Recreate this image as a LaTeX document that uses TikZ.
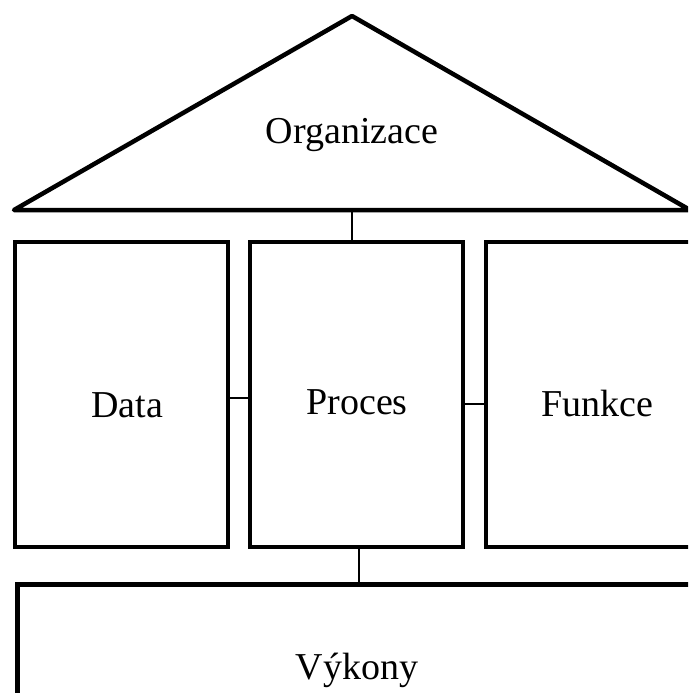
\documentclass[tikz,border=0pt]{standalone}
\usepackage{fontspec}
\setmainfont{Liberation Serif}
\begin{document}
\begin{tikzpicture}[x=1pt,y=-1pt,
  block/.style={draw, line width=4.5pt, inner sep=0pt, minimum width=213pt,
    minimum height=305pt, font=\fontsize{38}{40}\selectfont},
  link/.style={line width=1.6pt},
  lbl/.style={font=\fontsize{38}{40}\selectfont, inner sep=0pt}]
  \useasboundingbox (0,0) rectangle (688,693);
  \clip (0,0) rectangle (688,693);

  % roof
  \coordinate (roofL) at (14,210);
  \coordinate (roofT) at (352,16);
  \coordinate (roofR) at (690,210);
  \draw[line width=4.5pt, line join=round] (roofL) -- (roofT) -- (roofR) -- cycle;
  \node[lbl] (org) at (352,135) {Organizace};

  % pillars
  \node[block] (data)   at (121.5,394.5) {};
  \node[block] (proces) at (356.5,394.5) {};
  \node[block] (funkce) at (592.5,394.5) {};
  \node[lbl] at (127,405) {Data};
  \node[lbl] at (357,402) {Proces};
  \node[lbl] at (597,403) {Funkce};

  % foundation
  \node[draw, line width=4.5pt, inner sep=0pt, minimum width=700pt,
        minimum height=200pt, anchor=north west] (vykony) at (15,582) {};
  \node[lbl] at (357,670) {Výkony};

  % connectors
  \draw[link] (roofT |- roofL) -- (roofT |- proces.north);
  \draw[link] ([yshift=-3.5pt]data.east) -- ([yshift=-3.5pt]data.east -| proces.west);
  \draw[link] ([yshift=-9.5pt]proces.east) -- ([yshift=-9.5pt]proces.east -| funkce.west);
  \draw[link] ([xshift=2.5pt]proces.south) -- ([xshift=2.5pt]proces.south |- vykony.north);
\end{tikzpicture}
\end{document}
